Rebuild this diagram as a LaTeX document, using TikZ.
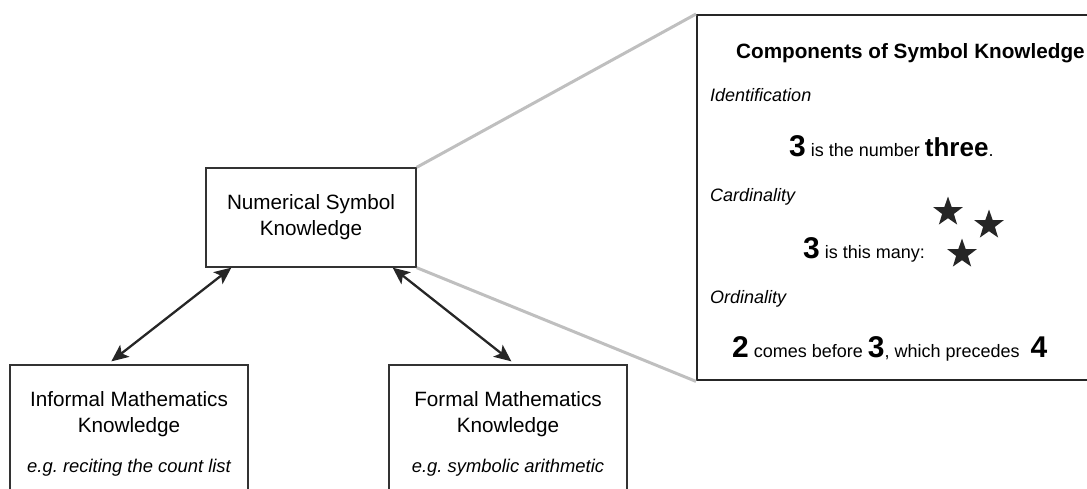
\documentclass[tikz,border=0pt]{standalone}
\usepackage{fontspec}
\setmainfont{Liberation Sans}
\usetikzlibrary{arrows.meta,shapes.geometric}
\frenchspacing

\newcommand{\bignum}[1]{{\fontsize{30}{32}\selectfont\bfseries #1}}
\newcommand{\egtext}[1]{{\fontsize{18.4}{22}\selectfont\itshape #1}}

\begin{document}
\begin{tikzpicture}[x=1pt,y=-1pt,
	box/.style={draw=black!80,line width=1.3pt,align=center,font=\fontsize{20.7}{26}\selectfont},
	panel/.style={draw=black!85,line width=2.4pt},
	zoomline/.style={draw=black!25,line width=3pt},
	arr/.style={draw=black!85,line width=2.3pt,{Stealth[length=17pt,width=15pt,inset=4pt]}-{Stealth[length=17pt,width=15pt,inset=4pt]}},
	txt/.style={inner sep=0pt,anchor=base west,font=\fontsize{18}{22}\selectfont},
	head/.style={txt,font=\fontsize{18}{22}\selectfont\itshape},
	staricon/.style={star,star points=5,star point ratio=2.5,fill=black!85,inner sep=0pt,minimum size=31pt}]
			\useasboundingbox (0,0) rectangle (1087,488);
			
			\node[box,minimum width=210,minimum height=99] (main) at (311,217.5) {Numerical Symbol\\Knowledge};
			\node[box,minimum width=238,minimum height=138] (informal) at (129,434) {Informal Mathematics\\Knowledge\\[14pt]\egtext{e.g. reciting the count list}};
			\node[box,minimum width=238,minimum height=138] (formal) at (508,434) {Formal Mathematics\\Knowledge\\[14pt]\egtext{e.g. symbolic arithmetic}};
			
			\node[panel,minimum width=400,minimum height=365,anchor=north west] (panel) at (696,14) {};
			
			\path[zoomline] (main.north east) -- (panel.north west);
			\path[zoomline] (main.south east) -- (panel.south west);
			
			\path[arr] ([xshift=26]main.south west) -- ([xshift=102,yshift=3]informal.north west);
			\path[arr] ([xshift=-24]main.south east) -- ([xshift=123,yshift=3]formal.north west);
			
			% panel contents
			\node[txt,font=\fontsize{20.7}{24}\selectfont\bfseries] (title) at (736,58) {Components of Symbol Knowledge};
			
			\node[head] (ident) at (710,101) {Identification};
			\node[txt] (identex) at (789,156) {\bignum{3} is the number {\fontsize{26}{28}\selectfont\bfseries three}.};
			
			\node[head] (card) at (710,201) {Cardinality};
			\node[txt] (cardex) at (803,258) {\bignum{3} is this many:};
			\node[staricon] (star1) at (948,212) {};
			\node[staricon] (star2) at (989,225) {};
			\node[staricon] (star3) at (962,254) {};
			
			\node[head] (ord) at (710,303) {Ordinality};
			\node[txt] (ordex) at (732,357) {\bignum{2} comes before \bignum{3}, which precedes\hspace{6pt} \bignum{4}};
		\end{tikzpicture}
\end{document}
